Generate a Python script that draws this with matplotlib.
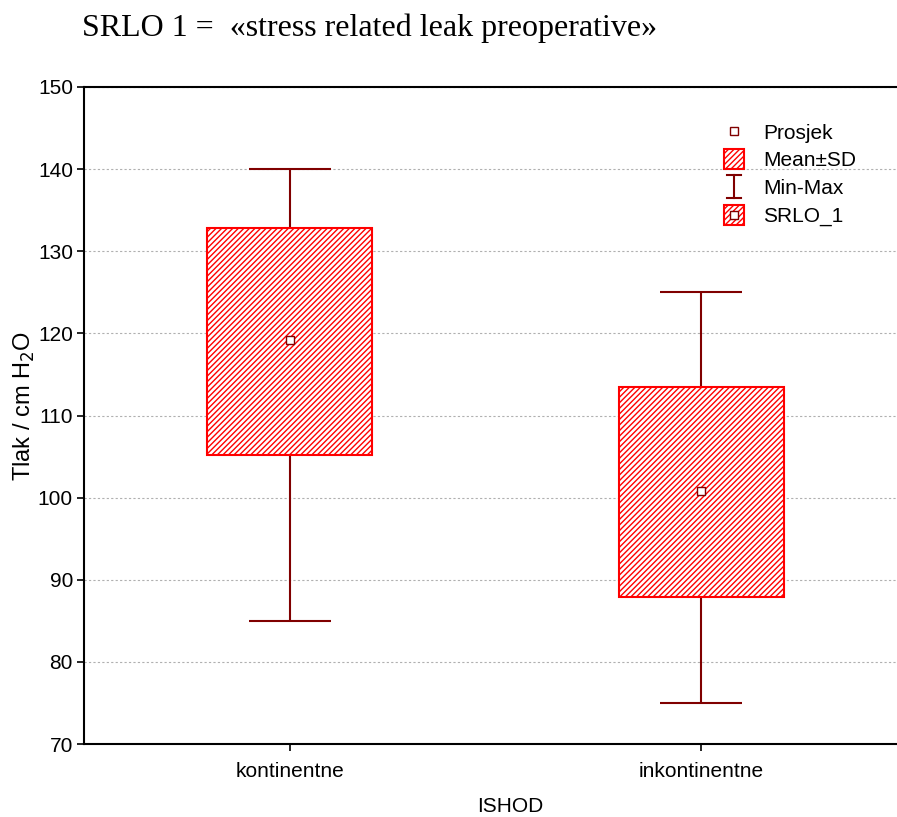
import matplotlib
matplotlib.use("Agg")
import matplotlib.pyplot as plt
from matplotlib.patches import Rectangle
from matplotlib.lines import Line2D
from matplotlib.legend_handler import HandlerBase
import numpy as np

categories = ["kontinentne", "inkontinentne"]
means = [119.2, 100.8]
sd_low = [105.2, 87.9]
sd_high = [132.8, 113.5]
mins = [85, 75]
maxs = [140, 125]
yticks = [70, 80, 90, 100, 110, 120, 130, 140, 150]

plt.rcParams['font.family'] = ['Liberation Sans', 'DejaVu Sans']
plt.rcParams['hatch.linewidth'] = 1.0
plt.rcParams['hatch.color'] = '#ff2020'

DARK = '#800000'
RED = '#ff0000'

fig = plt.figure(figsize=(8.97, 8.17), dpi=100)
W, H = 897, 817
ax = fig.add_axes([84 / W, 1 - 744 / H, (907 - 84) / W, (744 - 87) / H])

x = np.arange(len(categories))
bw = 0.4
cw = 0.2
for i in range(len(categories)):
    ax.vlines(x[i], mins[i], sd_low[i], color=DARK, lw=1.5, zorder=2)
    ax.vlines(x[i], sd_high[i], maxs[i], color=DARK, lw=1.5, zorder=2)
    ax.hlines([mins[i], maxs[i]], x[i] - cw / 2, x[i] + cw / 2, color=DARK, lw=1.5, zorder=2)
    r = Rectangle((x[i] - bw / 2, sd_low[i]), bw, sd_high[i] - sd_low[i],
                  facecolor='white', edgecolor=RED, hatch='//////', lw=1.5, zorder=3)
    ax.add_patch(r)
    ax.plot(x[i], means[i], marker='s', ms=6, mfc='white', mec=DARK, mew=1.0, zorder=4, ls='none')

ax.set_xlim(-0.5, 1.5)
ax.set_ylim(70, 150)
ax.set_yticks(yticks)
ax.set_xticks(x)
ax.set_xticklabels(categories)
ax.tick_params(axis='both', labelsize=15, direction='out', length=5, width=1.2)
ax.tick_params(axis='x', pad=8)
ax.tick_params(axis='y', pad=3)
ax.yaxis.grid(True, ls=(0, (2, 2)), color='#b0b0b0', lw=0.8)
ax.set_axisbelow(True)
for s in ['left', 'bottom', 'top']:
    ax.spines[s].set_linewidth(1.5)
ax.spines['right'].set_visible(False)

fig.text(24 / W, 1 - 406 / H, r'Tlak / cm H$_2$O', fontsize=17, rotation=90,
         ha='center', va='center')
fig.text(510 / W, 1 - 806 / H, 'ISHOD', fontsize=15, ha='center', va='center')

fig.text(82 / W, 1 - 28 / H, 'SRLO 1 =  \u00abstress related leak preoperative\u00bb',
         family=['Liberation Serif', 'DejaVu Serif'], fontsize=23, va='center', ha='left')


class MinMaxHandler(HandlerBase):
    def create_artists(self, legend, orig_handle, xdescent, ydescent, width, height, fontsize, trans):
        cx = width / 2 - xdescent
        y0 = -ydescent - 3
        y1 = height - ydescent + 3
        c = 5
        l1 = Line2D([cx, cx], [y0, y1], color=DARK, lw=1.5, transform=trans)
        l2 = Line2D([cx - c, cx + c], [y0, y0], color=DARK, lw=1.5, transform=trans)
        l3 = Line2D([cx - c, cx + c], [y1, y1], color=DARK, lw=1.5, transform=trans)
        return [l1, l2, l3]


class BoxHandler(HandlerBase):
    def __init__(self, with_marker=False):
        super().__init__()
        self.with_marker = with_marker

    def create_artists(self, legend, orig_handle, xdescent, ydescent, width, height, fontsize, trans):
        s = height + 4
        cx = width / 2 - xdescent
        cy = height / 2 - ydescent
        r = Rectangle((cx - s / 2, cy - s / 2), s, s, facecolor='white', edgecolor=RED,
                      hatch='//////', lw=1.5, transform=trans)
        arts = [r]
        if self.with_marker:
            m = Line2D([cx], [cy], marker='s', ms=6, mfc='white', mec=DARK, mew=1.0,
                       ls='none', transform=trans)
            arts.append(m)
        return arts


h_mean = Line2D([], [], marker='s', ms=6, mfc='white', mec=DARK, mew=1.0, ls='none')
h_sd = Rectangle((0, 0), 1, 1)
h_mm = Line2D([], [])
h_all = Rectangle((0, 0), 1, 1)
leg = ax.legend([h_mean, h_sd, h_mm, h_all], ['Prosjek', 'Mean\u00b1SD', 'Min-Max', 'SRLO_1'],
                handler_map={h_sd: BoxHandler(False), h_mm: MinMaxHandler(), h_all: BoxHandler(True)},
                loc='upper left', bbox_to_anchor=(703 / W, 1 - 105 / H), bbox_transform=fig.transFigure,
                frameon=False, fontsize=15, handlelength=1.2, handletextpad=0.8, labelspacing=0.42)

fig.savefig('out.png', dpi=100)
